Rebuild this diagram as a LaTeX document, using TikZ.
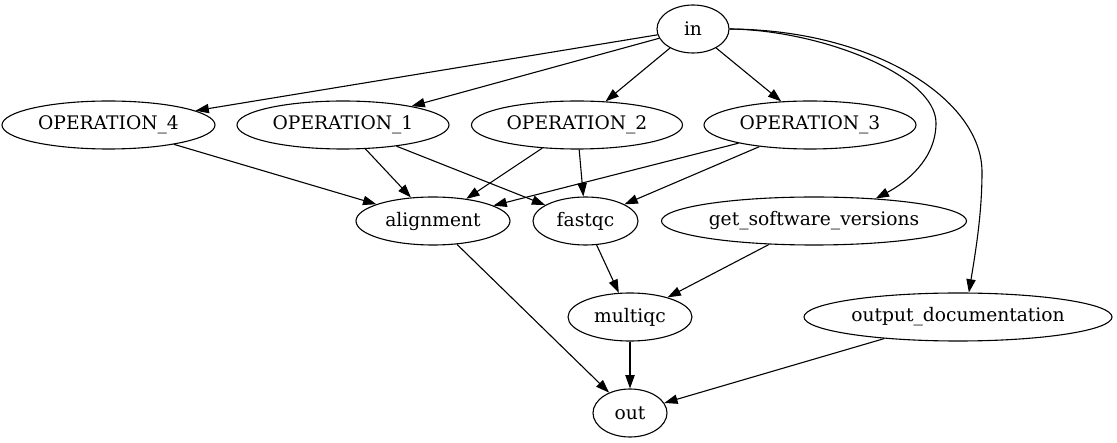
\documentclass[tikz,border=0pt]{standalone}
\usepackage{fontspec}
\setmainfont{DejaVu Serif}
\usetikzlibrary{shapes.geometric,arrows.meta}
\begin{document}
\begin{tikzpicture}[x=1pt,y=-1pt,
  vertex/.style={draw,ellipse,line width=1.1pt,inner sep=0pt,
    minimum height=48pt,font=\fontsize{18.67}{22}\selectfont},
  edge/.style={line width=1.1pt,-{Triangle[length=13.3pt,width=9.3pt]}}]
\useasboundingbox (0,0) rectangle (1117,443);
% rank 0
\node[vertex,minimum width=72pt]  (in)    at (693,29)  {in};
% rank 1
\node[vertex,minimum width=213pt] (op4)   at (108.5,125) {OPERATION\_4};
\node[vertex,minimum width=212pt] (op1)   at (343,125) {OPERATION\_1};
\node[vertex,minimum width=211pt] (op2)   at (577,125) {OPERATION\_2};
\node[vertex,minimum width=212pt] (op3)   at (810,125) {OPERATION\_3};
% rank 2
\node[vertex,minimum width=154pt] (align) at (433,221) {alignment};
\node[vertex,minimum width=105pt] (fqc)   at (585.5,221) {fastqc};
\node[vertex,minimum width=305pt] (gsv)   at (814,221) {get\_software\_versions};
% rank 3
\node[vertex,minimum width=124pt] (mqc)   at (630,317) {multiqc};
\node[vertex,minimum width=308pt] (odoc)  at (958,317) {output\_documentation};
% rank 4
\node[vertex,minimum width=74pt]  (out)   at (630,413) {out};

% edges out of the input node
\draw[edge] (in) -- (op4);
\draw[edge] (in) -- (op1);
\draw[edge] (in) -- (op2);
\draw[edge] (in) -- (op3);
\draw[edge] (in.east) .. controls (820,30) and (936,75) .. (936,123)
  .. controls (936,160) and (905,183) .. (gsv.20);
\draw[edge] (in.east) .. controls (875,30) and (982,100) .. (982,172)
  .. controls (982,215) and (975,255) .. (odoc.66);
% operations to processing steps
\draw[edge] (op4) -- (align);
\draw[edge] (op1) -- (align);
\draw[edge] (op1) -- (fqc);
\draw[edge] (op2) -- (align);
\draw[edge] (op2) -- (fqc);
\draw[edge] (op3) -- (align);
\draw[edge] (op3) -- (fqc);
% reporting
\draw[edge] (fqc) -- (mqc);
\draw[edge] (gsv) -- (mqc);
\draw[edge] (align) -- (out);
\draw[edge] (mqc) -- (out);
\draw[edge] (odoc) -- (out);
\end{tikzpicture}
\end{document}
